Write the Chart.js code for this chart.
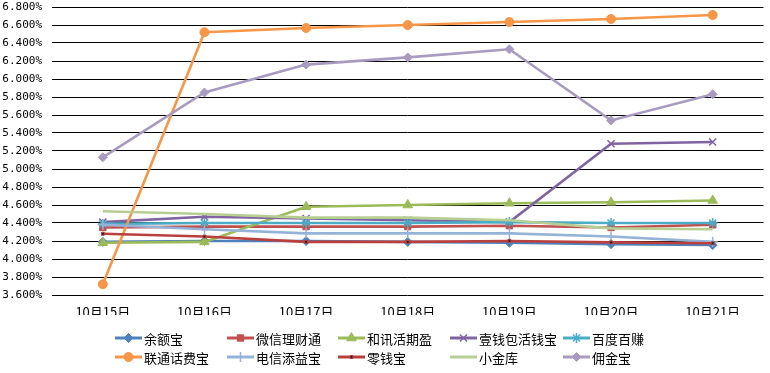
<!DOCTYPE html>
<html>
<head>
<meta charset="utf-8">
<script src="https://cdn.jsdelivr.net/npm/chart.js@4.4.1/dist/chart.umd.min.js"></script>
<style>
html,body{margin:0;padding:0;background:#fff;}
#wrap{width:770px;height:373px;position:relative;}
</style>
</head>
<body>
<div id="wrap"><canvas id="c" width="770" height="373"></canvas></div>
<script>
const categories = ["10月15日","10月16日","10月17日","10月18日","10月19日","10月20日","10月21日"];
const seriesNames = ["余额宝","微信理财通","和讯活期盈","壹钱包活钱宝","百度百赚","联通话费宝","电信添益宝","零钱宝","小金库","佣金宝"];
const yuebao      = [4.19, 4.20, 4.20, 4.19, 4.18, 4.165, 4.155];
const weixin      = [4.35, 4.36, 4.36, 4.36, 4.37, 4.35, 4.38];
const hexun       = [4.18, 4.19, 4.58, 4.60, 4.62, 4.63, 4.65];
const yiqianbao   = [4.41, 4.47, 4.45, 4.43, 4.41, 5.28, 5.30];
const baidu       = [4.39, 4.40, 4.40, 4.40, 4.41, 4.40, 4.40];
const liantong    = [3.72, 6.52, 6.567, 6.60, 6.633, 6.667, 6.711];
const dianxin     = [4.38, 4.33, 4.285, 4.285, 4.285, 4.25, 4.19];
const lingqianbao = [4.28, 4.25, 4.19, 4.19, 4.20, 4.185, 4.175];
const xiaojinku   = [4.53, 4.50, 4.46, 4.46, 4.43, 4.34, 4.33];
const yongjinbao  = [5.13, 5.85, 6.16, 6.24, 6.33, 5.54, 5.83];
const yTickMin = 3.6, yTickMax = 6.8, yTickStep = 0.2;

const seriesValues = [yuebao, weixin, hexun, yiqianbao, baidu, liantong, dianxin, lingqianbao, xiaojinku, yongjinbao];
const colors = ["#4F81BD","#C0504D","#9BBB59","#8064A2","#4BACC6","#F79646","#95B3D7","#B9403D","#B7CE93","#A99BC0"];
const styles = [
  {ps:"rectRot", r:4.5, fill:true},
  {ps:"rect", r:4.5, fill:true},
  {ps:"triangle", r:5.5, fill:true},
  {ps:"crossRot", r:5, fill:false},
  {ps:"star", r:5, fill:false},
  {ps:"circle", r:4.5, fill:true},
  {ps:"cross", r:5, fill:false},
  {ps:"rect", r:2, fill:true, dark:true},
  {ps:false, r:0, fill:true},
  {ps:"rectRot", r:4.5, fill:true}
];

const datasets = seriesNames.map((n,i)=>({
  label:n,
  data:seriesValues[i],
  borderColor:colors[i],
  backgroundColor: styles[i].dark ? "#1a1a1a" : colors[i],
  pointBackgroundColor: styles[i].dark ? "#1a1a1a" : colors[i],
  pointBorderColor: colors[i],
  pointBorderWidth: styles[i].dark ? 1 : (styles[i].fill ? 1 : 1.5),
  pointStyle: styles[i].ps || "circle",
  pointRadius: styles[i].r,
  pointHoverRadius: styles[i].r,
  borderWidth: 2.6,
  tension:0,
  fill:false,
  clip:false,
  order: 20 - i
}));

const gridLegend = {
  id:"gridLegend",
  afterDraw(chart){
    const ctx = chart.ctx;
    const colX = [115, 227, 338, 450, 563];
    const rowY = [338, 357];
    ctx.save();
    chart.data.datasets.forEach((ds,i)=>{
      const x = colX[i % 5], y = rowY[Math.floor(i/5)];
      ctx.strokeStyle = ds.borderColor;
      ctx.lineWidth = 3;
      ctx.beginPath(); ctx.moveTo(x, y); ctx.lineTo(x+27, y); ctx.stroke();
      if (ds.pointRadius > 0) {
        ctx.fillStyle = ds.pointBackgroundColor;
        ctx.strokeStyle = ds.pointBorderColor;
        ctx.lineWidth = ds.pointBorderWidth;
        Chart.helpers.drawPoint(ctx, {pointStyle: ds.pointStyle, radius: ds.pointRadius, rotation:0, borderWidth: ds.pointBorderWidth}, x+13.5, y);
      }
      ctx.fillStyle = "#000";
      ctx.font = "13px 'Noto Sans CJK SC'";
      ctx.textBaseline = "middle";
      ctx.textAlign = "left";
      ctx.fillText(ds.label, x+29, y+1);
    });
    ctx.restore();
  }
};

new Chart(document.getElementById("c"), {
  type:"line",
  data:{labels:categories, datasets},
  plugins:[gridLegend],
  options:{
    responsive:false,
    animation:false,
    events:[],
    layout:{padding:{left:2, right:0, top:7, bottom:58}},
    plugins:{legend:{display:false}, tooltip:{enabled:false}},
    scales:{
      x:{
        offset:true,
        grid:{display:false, drawTicks:false},
        border:{display:false},
        ticks:{color:"#000", font:{family:"'Noto Sans CJK SC'", size:13}, padding:9, maxRotation:0, autoSkip:false},
        afterFit(s){ s.height = 20; s.paddingLeft = 0; s.paddingRight = 0; }
      },
      y:{
        min:yTickMin, max:yTickMax,
        grid:{color:"#000", lineWidth:1, drawTicks:false},
        border:{display:false},
        ticks:{stepSize:yTickStep, color:"#000", padding:10,
          font:{family:"'DejaVu Sans Mono', monospace", size:11},
          callback:v=>Number(v).toFixed(3)+"%"},
        afterFit(s){ s.width = 50; s.paddingTop = 0; s.paddingBottom = 0; }
      }
    }
  }
});
</script>
</body>
</html>
